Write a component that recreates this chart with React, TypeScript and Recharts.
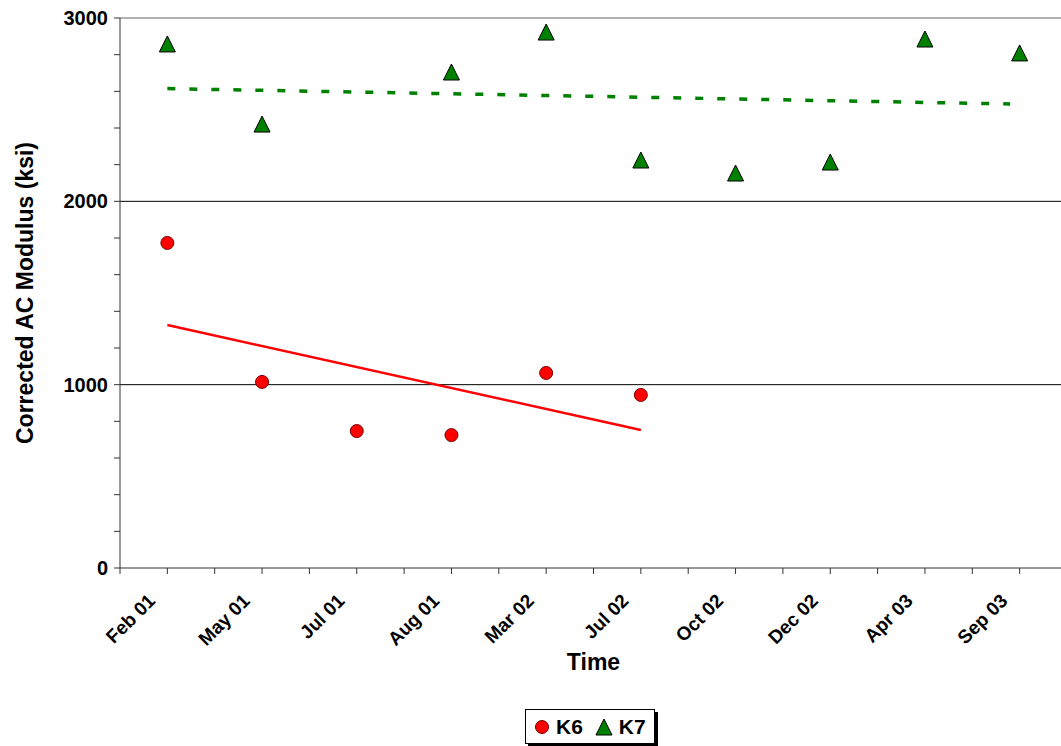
import { ComposedChart, Line, ReferenceLine, Scatter, XAxis, YAxis } from 'recharts';

const categories = ['Feb 01', 'May 01', 'Jul 01', 'Aug 01', 'Mar 02', 'Jul 02', 'Oct 02', 'Dec 02', 'Apr 03', 'Sep 03'];
const k6Values = [1773, 1015, 747, 725, 1064, 944, null, null, null, null];
const k7Values = [2853, 2416, null, 2700, 2918, 2220, 2149, 2209, 2880, 2804];
// linear trend end points: [category index, value]
const k6Trend = [[0, 1325], [5, 753]];
const k7Trend = [[0, 2615], [8.9, 2531]];
const yTicks = [0, 200, 400, 600, 800, 1000, 1200, 1400, 1600, 1800, 2000, 2200, 2400, 2600, 2800, 3000];

const FONT = '"Liberation Sans", Arial, sans-serif';
const RED = '#ff0000';
const GREEN = '#008000';

const toPoints = (vals: (number | null)[]) =>
  vals.map((v, i) => ({ x: i, y: v })).filter((p) => p.y !== null);
const k6Data = toPoints(k6Values);
const k7Data = toPoints(k7Values);
const k6TrendData = k6Trend.map(([x, y]) => ({ x, y }));
const k7TrendData = k7Trend.map(([x, y]) => ({ x, y }));

// ticks at category centres and boundaries
const xTicks = [...categories.flatMap((_, i) => [i - 0.5, i]), categories.length - 0.5];

function XTick({ x, y, payload }: any) {
  const v = payload.value;
  if (!Number.isInteger(v)) return <g />;
  return (
    <g transform={`translate(${x - 11},${y + 26})`}>
      <text transform="rotate(-45)" textAnchor="end" fontFamily={FONT} fontWeight="bold" fontSize={19} fill="#000">
        {categories[v]}
      </text>
    </g>
  );
}

function YTick({ x, y, payload }: any) {
  if (payload.value % 1000 !== 0) return <g />;
  return (
    <text x={x - 4} y={y} dy={7} textAnchor="end" fontFamily={FONT} fontWeight="bold" fontSize={20} fill="#000">
      {payload.value}
    </text>
  );
}

const Circle = ({ cx, cy }: any) => <circle cx={cx} cy={cy} r={6.5} fill={RED} stroke="#700" strokeWidth={1} />;
const Triangle = ({ cx, cy }: any) => (
  <polygon points={`${cx},${cy - 9} ${cx - 8},${cy + 7} ${cx + 8},${cy + 7}`} fill={GREEN} stroke="#000" strokeWidth={1} />
);

export default function App() {
  return (
    <div style={{ position: 'absolute', left: 0, top: 0, width: 1061, height: 746, overflow: 'hidden', background: '#fff' }}>
      <ComposedChart width={1070} height={746} margin={{ top: 18, right: 3, left: 0, bottom: 0 }}>
        <XAxis
          type="number"
          dataKey="x"
          domain={[-0.5, categories.length - 0.5]}
          ticks={xTicks}
          interval={0}
          tick={<XTick />}
          tickSize={6}
          height={178}
          stroke="#333"
          label={{
            content: ({ viewBox }: any) => (
              <text x={viewBox.x + viewBox.width / 2} y={670} textAnchor="middle" fontFamily={FONT} fontWeight="bold" fontSize={23} fill="#000">
                Time
              </text>
            ),
          }}
        />
        <YAxis
          type="number"
          domain={[0, 3000]}
          ticks={yTicks}
          interval={0}
          tick={<YTick />}
          tickSize={6}
          width={120}
          stroke="#333"
          label={{
            content: ({ viewBox }: any) => (
              <text
                transform={`translate(33,${viewBox.y + viewBox.height / 2}) rotate(-90)`}
                textAnchor="middle"
                fontFamily={FONT}
                fontWeight="bold"
                fontSize={23}
                fill="#000"
              >
                Corrected AC Modulus (ksi)
              </text>
            ),
          }}
        />
        <ReferenceLine y={1000} stroke="#000" strokeWidth={1} />
        <ReferenceLine y={2000} stroke="#000" strokeWidth={1} />
        <ReferenceLine y={3000} stroke="#999" strokeWidth={1.5} />
        <Line data={k6TrendData} dataKey="y" type="linear" stroke={RED} strokeWidth={2.5} dot={false} isAnimationActive={false} />
        <Line data={k7TrendData} dataKey="y" type="linear" stroke={GREEN} strokeWidth={3.5} strokeDasharray="8 14" dot={false} isAnimationActive={false} />
        <Scatter name="K6" data={k6Data} dataKey="y" shape={<Circle />} isAnimationActive={false} />
        <Scatter name="K7" data={k7Data} dataKey="y" shape={<Triangle />} isAnimationActive={false} />
      </ComposedChart>
      <div
        style={{
          position: 'absolute',
          left: 525,
          top: 709,
          height: 33,
          padding: '0 8px',
          display: 'flex',
          alignItems: 'center',
          gap: 6,
          border: '1px solid #000',
          boxShadow: '3px 3px 0 #000',
          background: '#fff',
          fontFamily: FONT,
          fontWeight: 'bold',
          fontSize: 21,
        }}
      >
        <svg width={16} height={16}>
          <circle cx={8} cy={8} r={6.5} fill={RED} stroke="#700" strokeWidth={1} />
        </svg>
        <span style={{ marginRight: 6 }}>K6</span>
        <svg width={18} height={18}>
          <polygon points="9,1 1,17 17,17" fill={GREEN} stroke="#000" strokeWidth={1} />
        </svg>
        <span>K7</span>
      </div>
    </div>
  );
}
